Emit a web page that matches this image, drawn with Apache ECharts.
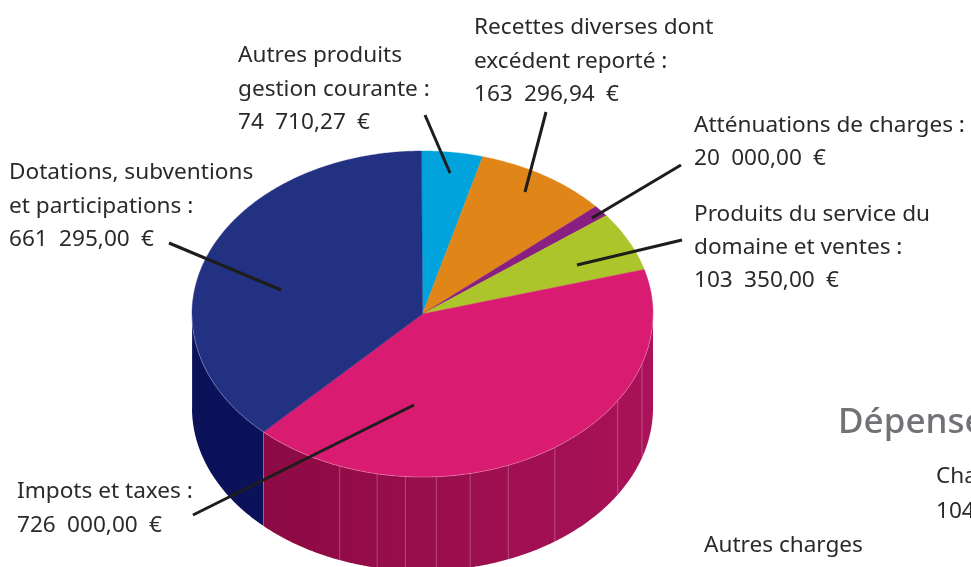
<!DOCTYPE html>
<html><head><meta charset="utf-8">
<style>html,body{margin:0;padding:0;background:#fff}#c{width:971px;height:567px}</style>
<script src="https://cdn.jsdelivr.net/npm/echarts@6/dist/echarts.min.js"></script>
</head><body><div id="c"></div>
<script>
// ---- data ----
const categories = ['Autres produits gestion courante','Recettes diverses dont excédent reporté','Atténuations de charges','Produits du service du domaine et ventes','Impots et taxes','Dotations, subventions et participations'];
const values = [74710.27,163296.94,20000,103350,726000,661295];
const topColors = ['#00a3dc','#e08518','#8a1f82','#abc52a','#d91c71','#233183'];
const sideColors = ['#007aa6','#a86210','#5e1259','#7f931c','#9a0e4f','#0c1259'];
// facet seams on the side wall, in degrees clockwise from 12 o'clock
const facetAngles = [201.3,191.6,184.5,176.8,168.3,158.4,145.2,122.4,108];
// ---- layout ----
const CX=422.5, CY=314, RX=230.5, RY=163, DEPTH=94, ROT=-0.25;
const FONT='"Noto Sans"', FS=22.6, TXT='#2b2a29', BASE=5.5;
const EN='\u2002';
const textLines = [
 [238,62,'Autres produits'],[238,96,'gestion courante :'],[238,129,'74'+EN+'710,27'+EN+'€'],
 [474,34,'Recettes diverses dont'],[474,68,'excédent reporté :'],[474,101,'163'+EN+'296,94'+EN+'€'],
 [694,132,'Atténuations de charges :'],[694,165,'20'+EN+'000,00'+EN+'€'],
 [694,221,'Produits du service du'],[694,254,'domaine et ventes :'],[694,287,'103'+EN+'350,00'+EN+'€'],
 [9,179,'Dotations, subventions'],[9,213,'et participations :'],[9,246,'661'+EN+'295,00'+EN+'€'],
 [17,498,'Impots et taxes :'],[17,532,'726'+EN+'000,00'+EN+'€'],
 [936,483,'Cha'],[936,518,'104'],[704,552,'Autres charges']
];
const leaders = [[425,115,450,173],[546,112,525,192],[681,165,592,218],[682,240,577,265],[169,243,281,290],[193,515,414,405]];

const total = values.reduce((a,b)=>a+b,0);
const pt=(deg,dy)=>{const r=(deg+ROT)*Math.PI/180;return [CX+RX*Math.sin(r),CY-RY*Math.cos(r)+(dy||0)];};
function arc(a0,a1,dy){const pts=[],n=Math.max(2,Math.ceil(Math.abs(a1-a0)*2));for(let i=0;i<=n;i++)pts.push(pt(a0+(a1-a0)*i/n,dy));return pts;}

function renderSlice(params,api){
  const i=params.dataIndex;
  let start=0;for(let k=0;k<i;k++)start+=values[k];
  const a0=start/total*360,a1=(start+api.value(0))/total*360;
  const kids=[];
  const s0=Math.max(a0,90),s1=Math.min(a1,270);
  if(s1>s0){
    const top=arc(s0,s1,0),bot=arc(s1,s0,DEPTH);
    let fill=sideColors[i];
    if(i===4) fill=new echarts.graphic.LinearGradient(pt(s1)[0],0,CX+RX,0,[{offset:0,color:'#8c0a43'},{offset:1,color:'#aa1259'}],true);
    kids.push({type:'polygon',z2:1,shape:{points:top.concat(bot)},style:{fill:fill}});
    if(i===4){
      facetAngles.forEach(f=>{
        if(f<=s0||f>=s1)return;
        const p=pt(f,0);
        kids.push({type:'line',z2:2,shape:{x1:p[0],y1:p[1],x2:p[0],y2:p[1]+DEPTH},style:{stroke:'rgba(255,255,255,0.25)',lineWidth:1}});
      });
    }
    kids.push({type:'line',z2:2,shape:{x1:pt(s1)[0],y1:pt(s1)[1],x2:pt(s1)[0],y2:pt(s1)[1]+DEPTH},style:{stroke:'rgba(255,255,255,0.2)',lineWidth:1}});
  }
  const pts=[[CX,CY]].concat(arc(a0,a1,0));
  kids.push({type:'polygon',z2:5+i,shape:{points:pts},style:{fill:topColors[i],stroke:topColors[i],lineWidth:0.4}});
  if(s1>s0) kids.push({type:'polyline',z2:20,shape:{points:arc(s0,s1,0)},style:{fill:null,stroke:'rgba(255,255,255,0.25)',lineWidth:1}});
  return {type:'group',children:kids};
}

const graphics=[];
leaders.forEach(l=>graphics.push({type:'line',z:50,shape:{x1:l[0],y1:l[1],x2:l[2],y2:l[3]},style:{stroke:'#1d1d1b',lineWidth:3}}));
textLines.forEach(t=>graphics.push({type:'text',z:60,x:t[0],y:t[1]+BASE,style:{text:t[2],fill:TXT,font:FS+'px '+FONT,verticalAlign:'bottom'}}));
graphics.push({type:'text',z:60,x:838,y:441,style:{text:'Dépense',fill:'#707276',font:'500 35px '+FONT,verticalAlign:'bottom'}});

const chart=echarts.init(document.getElementById('c'),null,{renderer:'canvas',width:971,height:567});
chart.setOption({animation:false,backgroundColor:'#fff',
  series:[{type:'custom',coordinateSystem:'none',silent:true,clip:false,renderItem:renderSlice,
    data:values.map((v,i)=>({name:categories[i],value:[v]}))}],
  graphic:graphics});
</script></body></html>
